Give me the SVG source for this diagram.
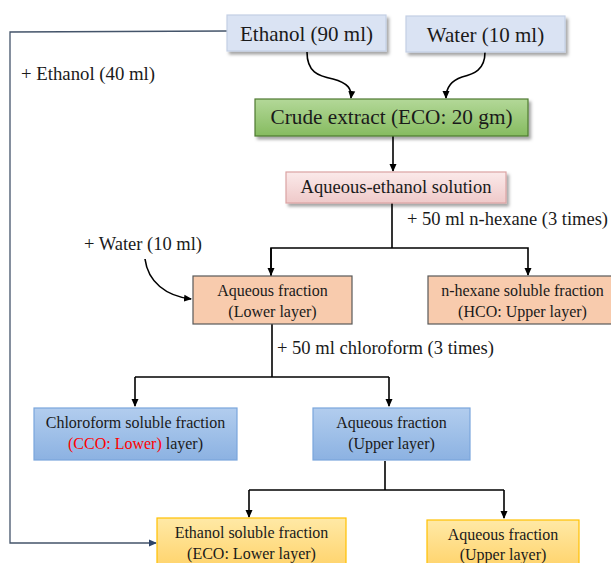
<svg xmlns="http://www.w3.org/2000/svg" width="611" height="563" viewBox="0 0 611 563">
<style>
text{font-family:"Liberation Serif","Times New Roman",serif;fill:#1a1a1a}
.big{font-size:21px}
.ann{font-size:18.5px}
.sm{font-size:16px}
.ln{fill:none;stroke:#000;stroke-width:1.6}
</style>
<defs>
<marker id="ah" markerWidth="8" markerHeight="8" refX="7" refY="4" orient="auto" markerUnits="userSpaceOnUse">
<path d="M0,0.5 L8,4 L0,7.5 Z" fill="#000"/>
</marker>
<marker id="ahb" markerWidth="8" markerHeight="8" refX="7" refY="4" orient="auto" markerUnits="userSpaceOnUse">
<path d="M0,0.5 L8,4 L0,7.5 Z" fill="#2f4468"/>
</marker>
<filter id="sh" x="-10%" y="-20%" width="130%" height="160%">
<feDropShadow dx="2.5" dy="3" stdDeviation="1.5" flood-color="#000" flood-opacity="0.35"/>
</filter>
<linearGradient id="gGreen" x1="0" y1="0" x2="0" y2="1">
<stop offset="0" stop-color="#b3d898"/><stop offset="1" stop-color="#86bb60"/>
</linearGradient>
<linearGradient id="gPink" x1="0" y1="0" x2="0" y2="1">
<stop offset="0" stop-color="#fbeaea"/><stop offset="1" stop-color="#efc9c9"/>
</linearGradient>
<linearGradient id="gBlue" x1="0" y1="0" x2="0" y2="1">
<stop offset="0" stop-color="#b2cdee"/><stop offset="1" stop-color="#8cb2e2"/>
</linearGradient>
<linearGradient id="gYel" x1="0" y1="0" x2="0" y2="1">
<stop offset="0" stop-color="#ffe9a6"/><stop offset="1" stop-color="#ffd36b"/>
</linearGradient>
</defs>

<g id="connectors">
<path d="M227,31 L10,32 L10,543 L156,543" fill="none" stroke="#44546a" stroke-width="1.3" marker-end="url(#ahb)"/>
<path class="ln" d="M307,52 C307,72 318,76 333,79 C348,83 352,89 351,98" marker-end="url(#ah)"/>
<path class="ln" d="M485,52 C485,70 474,74 462,77 C450,81 446,88 446,98" marker-end="url(#ah)"/>
<path class="ln" d="M393,136 L393,171" marker-end="url(#ah)"/>
<path class="ln" d="M392,203 L392,248"/>
<path class="ln" d="M271,276 L271,248 L528,248 L528,275" marker-end="url(#ah)"/>
<path class="ln" d="M271,248 L271,275" marker-end="url(#ah)"/>
<path class="ln" d="M145,259 C148,282 166,296 191,299" marker-end="url(#ah)"/>
<path class="ln" d="M272,324 L272,377"/>
<path class="ln" d="M135,377 L389,377"/>
<path class="ln" d="M135,377 L135,406" marker-end="url(#ah)"/>
<path class="ln" d="M389,377 L389,406" marker-end="url(#ah)"/>
<path class="ln" d="M385,461 L385,490"/>
<path class="ln" d="M249,490 L504,490"/>
<path class="ln" d="M249,490 L249,517" marker-end="url(#ah)"/>
<path class="ln" d="M504,490 L504,518" marker-end="url(#ah)"/>
</g>

<g id="ann-ethanol40"><text class="ann" x="21" y="80" textLength="134" lengthAdjust="spacingAndGlyphs">+ Ethanol (40 ml)</text></g>
<g id="ann-hexane"><text class="ann" x="407" y="225" textLength="201" lengthAdjust="spacingAndGlyphs">+ 50 ml n-hexane (3 times)</text></g>
<g id="ann-water"><text class="ann" x="84" y="250" textLength="118" lengthAdjust="spacingAndGlyphs">+ Water (10 ml)</text></g>
<g id="ann-chloro"><text class="ann" x="277" y="354" textLength="217" lengthAdjust="spacingAndGlyphs">+ 50 ml chloroform (3 times)</text></g>

<g id="n-ethanol">
<rect x="227" y="15" width="159" height="36" fill="#dae3f3" stroke="#c4cfe4" stroke-width="1.2" filter="url(#sh)"/>
<text class="big" x="306.5" y="41" text-anchor="middle">Ethanol (90 ml)</text>
</g>
<g id="n-water">
<rect x="406" y="16" width="159" height="36" fill="#dae3f3" stroke="#c4cfe4" stroke-width="1.2" filter="url(#sh)"/>
<text class="big" x="485.5" y="42" text-anchor="middle">Water (10 ml)</text>
</g>
<g id="n-crude">
<rect x="255" y="99" width="273" height="37" fill="url(#gGreen)" stroke="#4e7a30" stroke-width="1.2" filter="url(#sh)"/>
<text class="big" x="391.5" y="124" text-anchor="middle" textLength="242" lengthAdjust="spacingAndGlyphs">Crude extract (ECO: 20 gm)</text>
</g>
<g id="n-aqeth">
<rect x="286" y="172" width="220" height="31" fill="url(#gPink)" stroke="#dba3a3" stroke-width="1.2" filter="url(#sh)"/>
<text class="ann" x="396" y="193" text-anchor="middle" textLength="191" lengthAdjust="spacingAndGlyphs">Aqueous-ethanol solution</text>
</g>
<g id="n-aqlower">
<rect x="193" y="276" width="159" height="48" fill="#f8cbad" stroke="#595959" stroke-width="1.2"/>
<text class="sm" x="272.5" y="296" text-anchor="middle">Aqueous fraction</text>
<text class="sm" x="272.5" y="317" text-anchor="middle">(Lower layer)</text>
</g>
<g id="n-hexane">
<rect x="428" y="276" width="185" height="48" fill="#f8cbad" stroke="#595959" stroke-width="1.2"/>
<text class="sm" x="522.5" y="296" text-anchor="middle">n-hexane soluble fraction</text>
<text class="sm" x="522.5" y="317" text-anchor="middle">(HCO: Upper layer)</text>
</g>
<g id="n-chloro">
<rect x="34" y="408" width="203" height="52" fill="url(#gBlue)" stroke="#7aa6dc" stroke-width="1.2"/>
<text class="sm" x="135.5" y="428" text-anchor="middle">Chloroform soluble fraction</text>
<text class="sm" x="135.5" y="449" text-anchor="middle"><tspan fill="#ff0000">(CCO: Lower)</tspan> layer)</text>
</g>
<g id="n-aqupper-blue">
<rect x="313" y="408" width="157" height="52" fill="url(#gBlue)" stroke="#7aa6dc" stroke-width="1.2"/>
<text class="sm" x="391.5" y="428" text-anchor="middle">Aqueous fraction</text>
<text class="sm" x="391.5" y="449" text-anchor="middle">(Upper layer)</text>
</g>
<g id="n-ethsol">
<rect x="157" y="518" width="189" height="50" fill="url(#gYel)" stroke="#ffc000" stroke-width="1.2"/>
<text class="sm" x="251.5" y="538" text-anchor="middle">Ethanol soluble fraction</text>
<text class="sm" x="251.5" y="559" text-anchor="middle">(ECO: Lower layer)</text>
</g>
<g id="n-aqupper-yel">
<rect x="427" y="520" width="152" height="48" fill="url(#gYel)" stroke="#ffc000" stroke-width="1.2"/>
<text class="sm" x="503" y="540" text-anchor="middle">Aqueous fraction</text>
<text class="sm" x="503" y="560" text-anchor="middle">(Upper layer)</text>
</g>
</svg>
